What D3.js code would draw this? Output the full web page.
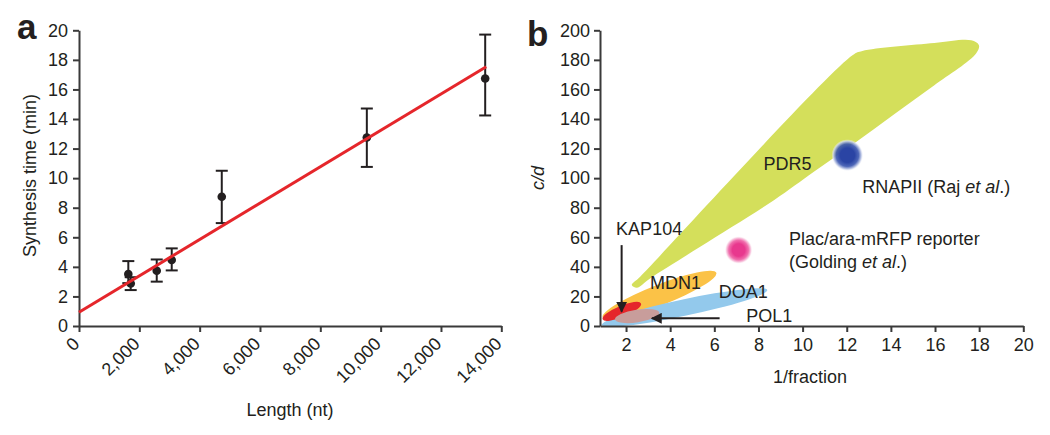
<!DOCTYPE html>
<html><head><meta charset="utf-8">
<script src="https://cdn.jsdelivr.net/npm/d3@7"></script>
<style>
body{margin:0;background:#fff;}
text{font-family:"Liberation Sans",Arial,Helvetica,sans-serif;fill:#231f20;}
</style></head>
<body><svg id="chart" width="1050" height="435"></svg>
<script>
// ---------- Panel a data ----------
const lengthsNt   = [1635, 1714, 2577, 3074, 4733, 9542, 13466];
const synthTime   = [3.51, 2.88, 3.74, 4.46, 8.74, 12.75, 16.74];
const errLow      = [2.9, 2.43, 3.0, 3.76, 6.96, 10.76, 14.24];
const errHigh     = [4.39, 3.3, 4.5, 5.25, 10.5, 14.71, 19.71];
const fitX        = [0, 13500];
const fitY        = [0.93, 17.53];
const xTicksA     = [0, 2000, 4000, 6000, 8000, 10000, 12000, 14000];
const yTicksA     = [0, 2, 4, 6, 8, 10, 12, 14, 16, 18, 20];

// ---------- Panel b data ----------
const xTicksB     = [2, 4, 6, 8, 10, 12, 14, 16, 18, 20];
const yTicksB     = [0, 20, 40, 60, 80, 100, 120, 140, 160, 180, 200];
// PDR5 region outline (1/fraction, c/d)
const pdr5X = [2.26, 2.64, 12.26, 12.71, 15.97, 17.64, 17.99, 17.86, 15.97, 14.15, 12.33, 10.51, 8.70, 5.36, 3.09, 2.49];
const pdr5Y = [27.7, 33.3, 183.1, 186.0, 191.4, 193.2, 189.9, 184.3, 162.8, 143.2, 123.4, 104.3, 85.1, 53.6, 32.2, 25.9];
// elongated gene regions: end points and half thickness (c/d units)
const geneNames  = ["MDN1", "DOA1", "KAP104", "POL1"];
const geneX1     = [0.94, 0.90, 0.94, 1.50];
const geneY1     = [5.9, 0.7, 4.5, 4.5];
const geneX2     = [6.09, 8.40, 2.68, 3.51];
const geneY2     = [36.0, 24.3, 15.3, 9.0];
const geneHalfW  = [7.0, 5.6, 3.8, 4.3];
const geneColors = ["#fbc247", "#93c9ec", "#e5262b", "#c89d9b"];
// literature points
const refNames = ["RNAPII", "Plac/ara-mRFP"];
const refX     = [12.03, 7.1];
const refY     = [115.5, 51.4];

const svg = d3.select("#chart");

// ================= Panel a =================
const xA = d3.scaleLinear().domain([0, 14000]).range([79, 501.3]);
const yA = d3.scaleLinear().domain([0, 20]).range([326, 30.3]);
const gA = svg.append("g");

const axColor = "#3a3a3a";
const yAxisA = gA.append("g").attr("transform", `translate(${xA(0)},0)`)
  .call(d3.axisLeft(yA).tickValues(yTicksA).tickSize(6).tickPadding(5).tickSizeOuter(0));
const xAxisA = gA.append("g").attr("transform", `translate(0,${yA(0)})`)
  .call(d3.axisBottom(xA).tickValues(xTicksA).tickSize(6).tickSizeOuter(0).tickFormat(d3.format(",")));
xAxisA.selectAll("text").attr("text-anchor", "end").attr("dy", null).attr("y", null)
  .attr("transform", "translate(1,19) rotate(-45)");
[yAxisA, xAxisA].forEach(ax => {
  ax.select(".domain").attr("stroke", axColor).attr("stroke-width", 2);
  ax.selectAll(".tick line").attr("stroke", axColor).attr("stroke-width", 2);
  ax.selectAll("text").style("font-size", "18px").attr("fill", "#231f20");
});

// error bars
const pts = lengthsNt.map((d, i) => ({x: d, y: synthTime[i], lo: errLow[i], hi: errHigh[i]}));
const eb = gA.append("g").attr("stroke", "#231f20").attr("stroke-width", 2);
pts.forEach(p => {
  eb.append("line").attr("x1", xA(p.x)).attr("x2", xA(p.x)).attr("y1", yA(p.lo)).attr("y2", yA(p.hi));
  eb.append("line").attr("x1", xA(p.x) - 6).attr("x2", xA(p.x) + 6).attr("y1", yA(p.lo)).attr("y2", yA(p.lo));
  eb.append("line").attr("x1", xA(p.x) - 6).attr("x2", xA(p.x) + 6).attr("y1", yA(p.hi)).attr("y2", yA(p.hi));
});
gA.selectAll("circle.pt").data(pts).enter().append("circle").attr("class", "pt")
  .attr("cx", d => xA(d.x)).attr("cy", d => yA(d.y)).attr("r", 4.3).attr("fill", "#231f20");
// fit line
gA.append("path").datum(fitX.map((d, i) => [d, fitY[i]]))
  .attr("d", d3.line().x(d => xA(d[0])).y(d => yA(d[1])))
  .attr("stroke", "#e5262b").attr("stroke-width", 3).attr("fill", "none");

gA.append("text").attr("x", 290).attr("y", 416).attr("text-anchor", "middle").style("font-size", "18px").text("Length (nt)");
gA.append("text").attr("transform", "translate(36,175.5) rotate(-90)").attr("text-anchor", "middle").style("font-size", "18px").text("Synthesis time (min)");
gA.append("text").attr("x", 17).attr("y", 39).style("font-size", "35px").style("font-weight", "bold").text("a");

// ================= Panel b =================
const xB = d3.scaleLinear().domain([0.82, 20]).range([600, 1023.3]);
const yB = d3.scaleLinear().domain([0, 200]).range([326, 30.3]);
const gB = svg.append("g");

const defs = svg.append("defs");
const clip = defs.append("clipPath").attr("id", "plotB");
clip.append("rect").attr("x", xB.range()[0]).attr("y", 0).attr("width", 500).attr("height", yB(0));

const plotB = gB.append("g").attr("clip-path", "url(#plotB)");
// PDR5 region
plotB.append("path").datum(pdr5X.map((d, i) => [d, pdr5Y[i]]))
  .attr("d", d3.line().x(d => xB(d[0])).y(d => yB(d[1])).curve(d3.curveCatmullRomClosed.alpha(0.5)))
  .attr("fill", "#d4df5b");
// gene ellipses
geneNames.forEach((n, i) => {
  const px1 = xB(geneX1[i]), py1 = yB(geneY1[i]), px2 = xB(geneX2[i]), py2 = yB(geneY2[i]);
  const cx = (px1 + px2) / 2, cy = (py1 + py2) / 2;
  const rx = Math.hypot(px2 - px1, py2 - py1) / 2;
  const ry = Math.abs(yB(0) - yB(geneHalfW[i]));
  const ang = Math.atan2(py2 - py1, px2 - px1) * 180 / Math.PI;
  plotB.append("ellipse").attr("cx", 0).attr("cy", 0).attr("rx", rx).attr("ry", ry)
    .attr("transform", `translate(${cx},${cy}) rotate(${ang})`).attr("fill", geneColors[i]);
});

// blurred literature spots
const grads = [
  {id: "gBlue", c0: "#2a44a4", c1: "#3a56b0", c2: "#c6cfea"},
  {id: "gPink", c0: "#e8388e", c1: "#ee5ea3", c2: "#f8cde2"}
];
grads.forEach(g => {
  const rg = defs.append("radialGradient").attr("id", g.id);
  rg.append("stop").attr("offset", "0%").attr("stop-color", g.c0);
  rg.append("stop").attr("offset", "45%").attr("stop-color", g.c0);
  rg.append("stop").attr("offset", "70%").attr("stop-color", g.c1).attr("stop-opacity", 0.9);
  rg.append("stop").attr("offset", "88%").attr("stop-color", g.c2).attr("stop-opacity", 0.9);
  rg.append("stop").attr("offset", "100%").attr("stop-color", "#ffffff").attr("stop-opacity", 0);
});
plotB.append("circle").attr("cx", xB(refX[0])).attr("cy", yB(refY[0])).attr("r", 16).attr("fill", "url(#gBlue)");
plotB.append("circle").attr("cx", xB(refX[1])).attr("cy", yB(refY[1])).attr("r", 14).attr("fill", "url(#gPink)");

// axes
const yAxisB = gB.append("g").attr("transform", `translate(${xB.range()[0]},0)`)
  .call(d3.axisLeft(yB).tickValues(yTicksB).tickSize(6).tickPadding(4).tickSizeOuter(0));
const xAxisB = gB.append("g").attr("transform", `translate(0,${yB(0)})`)
  .call(d3.axisBottom(xB).tickValues(xTicksB).tickSize(6).tickPadding(6).tickSizeOuter(0));
[yAxisB, xAxisB].forEach(ax => {
  ax.select(".domain").attr("stroke", axColor).attr("stroke-width", 2);
  ax.selectAll(".tick line").attr("stroke", axColor).attr("stroke-width", 2);
  ax.selectAll("text").style("font-size", "18px").attr("fill", "#231f20");
});

// arrows
const mk = defs.append("marker").attr("id", "arr").attr("viewBox", "0 0 10 10")
  .attr("refX", 9).attr("refY", 5).attr("markerWidth", 5.5).attr("markerHeight", 5.5)
  .attr("markerUnits", "strokeWidth").attr("orient", "auto");
mk.append("path").attr("d", "M0,0 L10,5 L0,10 Z").attr("fill", "#231f20");
const arrows = [
  {x1: 1.8, y1: 54.7, x2: 1.8, y2: 9.7},
  {x1: 6.24, y1: 5.2, x2: 3.17, y2: 5.2}
];
arrows.forEach(a => {
  gB.append("line").attr("x1", xB(a.x1)).attr("y1", yB(a.y1)).attr("x2", xB(a.x2)).attr("y2", yB(a.y2))
    .attr("stroke", "#231f20").attr("stroke-width", 2).attr("marker-end", "url(#arr)");
});

// labels
const labels = [
  {x: 8.23, y: 105.4, t: "PDR5"},
  {x: 1.55, y: 61.5, t: "KAP104"},
  {x: 3.09, y: 24.8, t: "MDN1"},
  {x: 6.2, y: 18.7, t: "DOA1"},
  {x: 7.45, y: 2.9, t: "POL1"}
];
labels.forEach(l => gB.append("text").attr("x", xB(l.x)).attr("y", yB(l.y)).style("font-size", "18px").text(l.t));
const t1 = gB.append("text").attr("x", xB(12.7)).attr("y", yB(90)).style("font-size", "18px");
t1.append("tspan").text("RNAPII (Raj ");
t1.append("tspan").style("font-style", "italic").text("et al");
t1.append("tspan").text(".)");
gB.append("text").attr("x", xB(9.38)).attr("y", yB(54.7)).style("font-size", "18px").text("Plac/ara-mRFP reporter");
const t2 = gB.append("text").attr("x", xB(9.38)).attr("y", yB(39)).style("font-size", "18px");
t2.append("tspan").text("(Golding ");
t2.append("tspan").style("font-style", "italic").text("et al");
t2.append("tspan").text(".)");

gB.append("text").attr("x", 810).attr("y", 383).attr("text-anchor", "middle").style("font-size", "18px").text("1/fraction");
gB.append("text").attr("transform", "translate(544,178) rotate(-90)").attr("text-anchor", "middle")
  .style("font-size", "18px").style("font-style", "italic").text("c/d");
gB.append("text").attr("x", 527).attr("y", 46).style("font-size", "35px").style("font-weight", "bold").text("b");
</script></body></html>
